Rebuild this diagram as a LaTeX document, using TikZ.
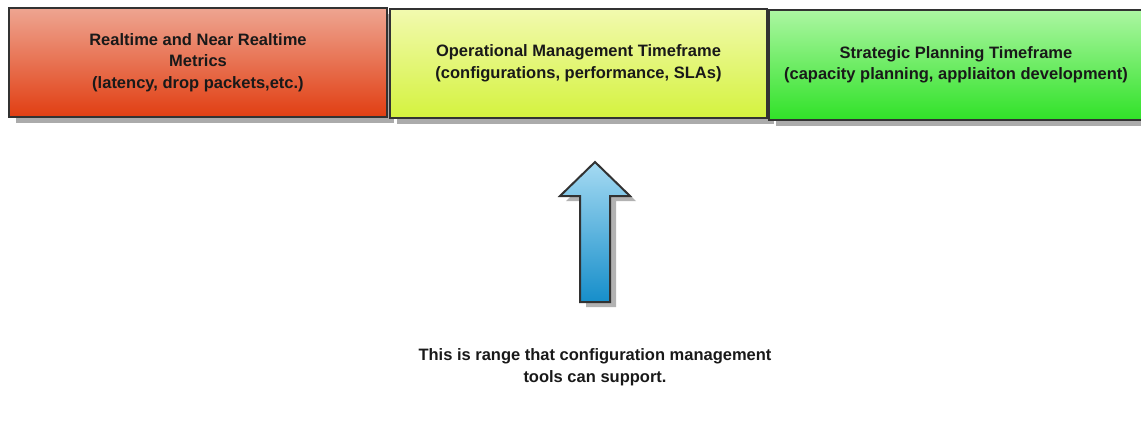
\documentclass[tikz,border=0pt]{standalone}
\usepackage{fontspec}
\setmainfont{Liberation Sans}
\usetikzlibrary{shadows}

\definecolor{redtop}{RGB}{238,165,145}
\definecolor{redbot}{RGB}{225,62,18}
\definecolor{yeltop}{RGB}{242,250,175}
\definecolor{yelbot}{RGB}{212,242,62}
\definecolor{grntop}{RGB}{172,246,162}
\definecolor{grnbot}{RGB}{48,226,40}
\definecolor{arrtop}{RGB}{165,218,242}
\definecolor{arrbot}{RGB}{22,142,202}
\definecolor{edge}{RGB}{50,50,50}

\begin{document}
\begin{tikzpicture}[x=1pt,y=-1pt,font=\bfseries\fontsize{16.5}{21.5}\selectfont]

\tikzset{frame/.style={draw=edge,line width=2pt,inner sep=0pt,align=center,text=black!90,
  drop shadow={shadow xshift=7pt,shadow yshift=-6pt,fill=black!33,opacity=1}},
redframe/.style={frame,top color=redtop,bottom color=redbot},
yelframe/.style={frame,top color=yeltop,bottom color=yelbot},
grnframe/.style={frame,top color=grntop,bottom color=grnbot},
uparrow/.style={draw=edge,line width=2pt,top color=arrtop,bottom color=arrbot,
  drop shadow={shadow xshift=6pt,shadow yshift=-5pt,fill=black!30,opacity=1}}}

\useasboundingbox (0,0) rectangle (1141,424);

% Timeframe boxes
\node[redframe,minimum width=378pt,minimum height=109pt] (realtime) at (198,62.5)
  {Realtime and Near Realtime\\Metrics\\(latency, drop packets,etc.)};
\node[yelframe,minimum width=377pt,minimum height=109pt] (operational) at (578.5,63.5)
  {Operational Management Timeframe\\(configurations, performance, SLAs)};
\node[grnframe,minimum width=374pt,minimum height=110pt] (strategic) at (956,65)
  {Strategic Planning Timeframe\\(capacity planning, appliaiton development)};

% Arrow pointing up at the middle box
\draw[uparrow] (580,302) -- (580,196) -- (560,196) -- (595,162) -- (630,196) -- (610,196) -- (610,302) -- cycle;

% Note below the arrow
\node[align=center,text=black!90] (note) at (595,367)
  {This is range that configuration management\\tools can support.};

\end{tikzpicture}
\end{document}
